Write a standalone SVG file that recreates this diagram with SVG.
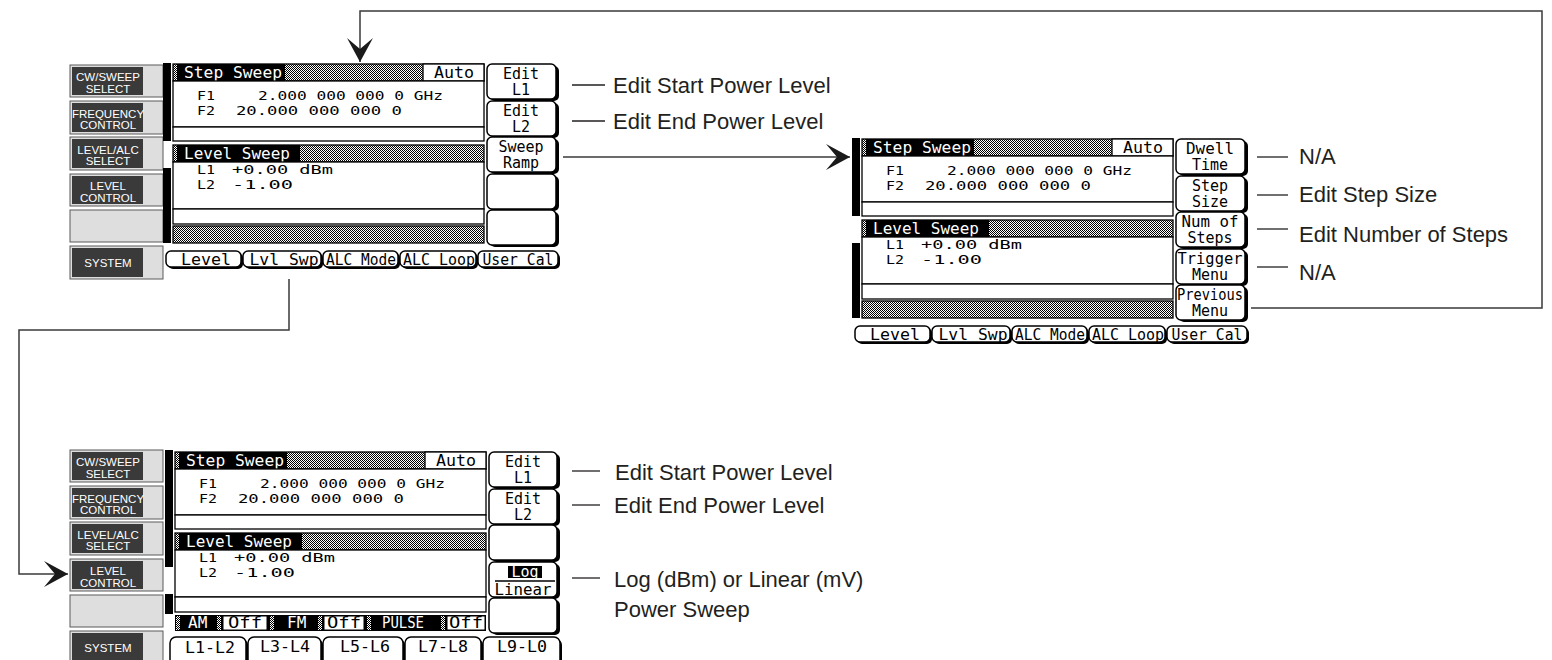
<svg xmlns="http://www.w3.org/2000/svg" width="1552" height="660" viewBox="0 0 1552 660">
<style>
.scr{font-family:"DejaVu Sans Mono","Liberation Mono",monospace;font-size:13px;fill:#000}
.hd{font-family:"DejaVu Sans Mono","Liberation Mono",monospace;font-size:16px;fill:#000}
.tb{font-family:"DejaVu Sans Mono","Liberation Mono",monospace;font-size:15px;fill:#000;text-anchor:middle}
.kt{font-family:"DejaVu Sans Mono","Liberation Mono",monospace;font-size:15px;fill:#000;text-anchor:middle}
.btn{font-family:"Liberation Sans",Arial,sans-serif;font-size:11.5px;fill:#fff;text-anchor:middle}
.lbl{font-family:"Liberation Sans",Arial,sans-serif;font-size:22px;fill:#231f20}
.w{fill:#fff}
.lcd{fill:#fff;stroke:#000;stroke-width:1.3}
.dot{fill:url(#chk);stroke:#000;stroke-width:1.3}
.dotf{fill:url(#chk)}
.bar{fill:#000}
.key{fill:#fff;stroke:#000;stroke-width:1.5}
.sh{fill:#000}
.bo{fill:#dedede;stroke:#5a5a5a;stroke-width:1}
.bi{fill:#3a3a3a}
.con{fill:none;stroke:#3a3a3a;stroke-width:1.5}
.ll{fill:none;stroke:#231f20;stroke-width:1.3}
</style>
<defs>
<pattern id="chk" width="2" height="2" patternUnits="userSpaceOnUse">
<rect width="2" height="2" fill="#fff"/>
<rect width="1" height="1" fill="#000"/>
<rect x="1" y="1" width="1" height="1" fill="#000"/>
</pattern>
<marker id="ah" viewBox="-26 -14 28 28" refX="0" refY="0" markerWidth="28" markerHeight="28" markerUnits="userSpaceOnUse" orient="auto">
<path d="M0,0 L-24,-13 L-13,0 L-24,13 Z" fill="#1a1a1a"/>
</marker>
</defs>
<rect width="1552" height="660" fill="#fff"/>

<!-- ============ PANEL A ============ -->
<g id="panelA">
 <g id="panelA-buttons">
  <rect class="bo" x="70" y="65" width="93" height="32"/><rect class="bi" x="72" y="67" width="71" height="28"/>
  <text class="btn" x="108" y="81">CW/SWEEP</text><text class="btn" x="108" y="92.5">SELECT</text>
  <rect class="bo" x="70" y="101" width="93" height="33"/><rect class="bi" x="72" y="103" width="71" height="29"/>
  <text class="btn" x="108" y="117.5">FREQUENCY</text><text class="btn" x="108" y="129">CONTROL</text>
  <rect class="bo" x="70" y="137" width="93" height="33"/><rect class="bi" x="72" y="139" width="71" height="29"/>
  <text class="btn" x="108" y="153.5">LEVEL/ALC</text><text class="btn" x="108" y="165">SELECT</text>
  <rect class="bo" x="70" y="174" width="93" height="32"/><rect class="bi" x="72" y="176" width="71" height="28"/>
  <text class="btn" x="108" y="190">LEVEL</text><text class="btn" x="108" y="201.5">CONTROL</text>
  <rect class="bo" x="70" y="210" width="93" height="32"/>
  <rect class="bo" x="70" y="246" width="93" height="33"/><rect class="bi" x="72" y="248" width="71" height="29"/>
  <text class="btn" x="108" y="267">SYSTEM</text>
 </g>
 <rect class="bar" x="163" y="63" width="8" height="78"/>
 <rect class="bar" x="163" y="168" width="8" height="75"/>
 <g id="panelA-screen">
  <rect class="dot" x="173" y="64" width="311" height="17"/>
  <rect x="177" y="64" width="108" height="17" fill="#000"/>
  <text class="hd w" x="184" y="78" textLength="98" lengthAdjust="spacingAndGlyphs">Step Sweep</text>
  <rect class="lcd" x="423" y="64" width="61" height="17"/>
  <text class="hd" x="434" y="78" textLength="40" lengthAdjust="spacingAndGlyphs">Auto</text>
  <rect class="lcd" x="173" y="81" width="311" height="46"/>
  <text class="scr" x="197" y="100" textLength="18" lengthAdjust="spacingAndGlyphs">F1</text>
  <text class="scr" x="258" y="100" textLength="185" lengthAdjust="spacingAndGlyphs">2.000 000 000 0 GHz</text>
  <text class="scr" x="197" y="115" textLength="18" lengthAdjust="spacingAndGlyphs">F2</text>
  <text class="scr" x="236" y="115" textLength="166" lengthAdjust="spacingAndGlyphs">20.000 000 000 0</text>
  <rect class="lcd" x="173" y="127" width="311" height="14"/>
  <rect class="dot" x="173" y="145" width="311" height="17"/>
  <rect x="177" y="145" width="123" height="17" fill="#000"/>
  <text class="hd w" x="184" y="159" textLength="106" lengthAdjust="spacingAndGlyphs">Level Sweep</text>
  <rect class="lcd" x="173" y="162" width="311" height="47"/>
  <text class="scr" x="197" y="174" textLength="18" lengthAdjust="spacingAndGlyphs">L1</text>
  <text class="scr" x="232" y="174" textLength="101" lengthAdjust="spacingAndGlyphs">+0.00 dBm</text>
  <text class="scr" x="197" y="189" textLength="18" lengthAdjust="spacingAndGlyphs">L2</text>
  <text class="scr" x="232" y="189" textLength="61" lengthAdjust="spacingAndGlyphs">-1.00</text>
  <rect class="lcd" x="173" y="209" width="311" height="15"/>
  <rect class="dot" x="173" y="226" width="311" height="17"/>
 </g>
 <g id="panelA-keys">
  <rect class="sh" x="490" y="66" width="69" height="35" rx="5"/><rect class="key" x="487" y="64" width="69" height="35" rx="5"/>
  <text class="kt" x="521" y="79">Edit</text><text class="kt" x="521" y="95">L1</text>
  <rect class="sh" x="490" y="103" width="69" height="35" rx="5"/><rect class="key" x="487" y="101" width="69" height="35" rx="5"/>
  <text class="kt" x="521" y="116">Edit</text><text class="kt" x="521" y="132">L2</text>
  <rect class="sh" x="490" y="139" width="69" height="35" rx="5"/><rect class="key" x="487" y="137" width="69" height="35" rx="5"/>
  <text class="kt" x="521" y="152">Sweep</text><text class="kt" x="521" y="168">Ramp</text>
  <rect class="sh" x="490" y="176" width="69" height="35" rx="5"/><rect class="key" x="487" y="174" width="69" height="35" rx="5"/>
  <rect class="sh" x="490" y="212" width="69" height="35" rx="5"/><rect class="key" x="487" y="210" width="69" height="35" rx="5"/>
 </g>
 <g id="panelA-tabs">
  <rect class="sh" x="168" y="253" width="75" height="16" rx="5"/><rect class="key" x="166" y="251" width="75" height="16" rx="5"/>
  <text class="tb" x="206" y="265" textLength="50" lengthAdjust="spacingAndGlyphs">Level</text>
  <rect class="sh" x="245" y="253" width="78" height="16" rx="5"/><rect class="key" x="243" y="251" width="78" height="16" rx="5"/>
  <text class="tb" x="284" y="265" textLength="69" lengthAdjust="spacingAndGlyphs">Lvl Swp</text>
  <rect class="sh" x="325" y="253" width="75" height="16" rx="5"/><rect class="key" x="323" y="251" width="75" height="16" rx="5"/>
  <text class="tb" x="361" y="265" textLength="70" lengthAdjust="spacingAndGlyphs">ALC Mode</text>
  <rect class="sh" x="402" y="253" width="76" height="16" rx="5"/><rect class="key" x="400" y="251" width="76" height="16" rx="5"/>
  <text class="tb" x="439" y="265" textLength="72" lengthAdjust="spacingAndGlyphs">ALC Loop</text>
  <rect class="sh" x="480" y="253" width="80" height="16" rx="5"/><rect class="key" x="478" y="251" width="80" height="16" rx="5"/>
  <text class="tb" x="518" y="265" textLength="71" lengthAdjust="spacingAndGlyphs">User Cal</text>
 </g>
</g>

<!-- ============ PANEL B ============ -->
<g id="panelB" transform="translate(689,75)">
 <rect class="bar" x="163" y="63" width="8" height="78"/>
 <rect class="bar" x="163" y="168" width="8" height="75"/>
 <g id="panelB-screen">
  <rect class="dot" x="173" y="64" width="311" height="17"/>
  <rect x="177" y="64" width="108" height="17" fill="#000"/>
  <text class="hd w" x="184" y="78" textLength="98" lengthAdjust="spacingAndGlyphs">Step Sweep</text>
  <rect class="lcd" x="423" y="64" width="61" height="17"/>
  <text class="hd" x="434" y="78" textLength="40" lengthAdjust="spacingAndGlyphs">Auto</text>
  <rect class="lcd" x="173" y="81" width="311" height="46"/>
  <text class="scr" x="197" y="100" textLength="18" lengthAdjust="spacingAndGlyphs">F1</text>
  <text class="scr" x="258" y="100" textLength="185" lengthAdjust="spacingAndGlyphs">2.000 000 000 0 GHz</text>
  <text class="scr" x="197" y="115" textLength="18" lengthAdjust="spacingAndGlyphs">F2</text>
  <text class="scr" x="236" y="115" textLength="166" lengthAdjust="spacingAndGlyphs">20.000 000 000 0</text>
  <rect class="lcd" x="173" y="127" width="311" height="14"/>
  <rect class="dot" x="173" y="145" width="311" height="17"/>
  <rect x="177" y="145" width="123" height="17" fill="#000"/>
  <text class="hd w" x="184" y="159" textLength="106" lengthAdjust="spacingAndGlyphs">Level Sweep</text>
  <rect class="lcd" x="173" y="162" width="311" height="47"/>
  <text class="scr" x="197" y="174" textLength="18" lengthAdjust="spacingAndGlyphs">L1</text>
  <text class="scr" x="232" y="174" textLength="101" lengthAdjust="spacingAndGlyphs">+0.00 dBm</text>
  <text class="scr" x="197" y="189" textLength="18" lengthAdjust="spacingAndGlyphs">L2</text>
  <text class="scr" x="232" y="189" textLength="61" lengthAdjust="spacingAndGlyphs">-1.00</text>
  <rect class="lcd" x="173" y="209" width="311" height="15"/>
  <rect class="dot" x="173" y="226" width="311" height="17"/>
 </g>
 <g id="panelB-keys">
  <rect class="sh" x="490" y="66" width="69" height="35" rx="5"/><rect class="key" x="487" y="64" width="69" height="35" rx="5"/>
  <text class="kt" x="521" y="79" textLength="48" lengthAdjust="spacingAndGlyphs">Dwell</text><text class="kt" x="521" y="95">Time</text>
  <rect class="sh" x="490" y="103" width="69" height="35" rx="5"/><rect class="key" x="487" y="101" width="69" height="35" rx="5"/>
  <text class="kt" x="521" y="116">Step</text><text class="kt" x="521" y="132">Size</text>
  <rect class="sh" x="490" y="139" width="69" height="35" rx="5"/><rect class="key" x="487" y="137" width="69" height="35" rx="5"/>
  <text class="kt" x="521" y="152" textLength="57" lengthAdjust="spacingAndGlyphs">Num of</text><text class="kt" x="521" y="168">Steps</text>
  <rect class="sh" x="490" y="176" width="69" height="35" rx="5"/><rect class="key" x="487" y="174" width="69" height="35" rx="5"/>
  <text class="kt" x="521" y="189" textLength="65" lengthAdjust="spacingAndGlyphs">Trigger</text><text class="kt" x="521" y="205">Menu</text>
  <rect class="sh" x="490" y="212" width="69" height="35" rx="5"/><rect class="key" x="487" y="210" width="69" height="35" rx="5"/>
  <text class="kt" x="521" y="225" textLength="66" lengthAdjust="spacingAndGlyphs">Previous</text><text class="kt" x="521" y="241">Menu</text>
 </g>
 <g id="panelB-tabs">
  <rect class="sh" x="168" y="253" width="75" height="16" rx="5"/><rect class="key" x="166" y="251" width="75" height="16" rx="5"/>
  <text class="tb" x="206" y="265" textLength="50" lengthAdjust="spacingAndGlyphs">Level</text>
  <rect class="sh" x="245" y="253" width="78" height="16" rx="5"/><rect class="key" x="243" y="251" width="78" height="16" rx="5"/>
  <text class="tb" x="284" y="265" textLength="69" lengthAdjust="spacingAndGlyphs">Lvl Swp</text>
  <rect class="sh" x="325" y="253" width="75" height="16" rx="5"/><rect class="key" x="323" y="251" width="75" height="16" rx="5"/>
  <text class="tb" x="361" y="265" textLength="70" lengthAdjust="spacingAndGlyphs">ALC Mode</text>
  <rect class="sh" x="402" y="253" width="76" height="16" rx="5"/><rect class="key" x="400" y="251" width="76" height="16" rx="5"/>
  <text class="tb" x="439" y="265" textLength="72" lengthAdjust="spacingAndGlyphs">ALC Loop</text>
  <rect class="sh" x="480" y="253" width="80" height="16" rx="5"/><rect class="key" x="478" y="251" width="80" height="16" rx="5"/>
  <text class="tb" x="518" y="265" textLength="71" lengthAdjust="spacingAndGlyphs">User Cal</text>
 </g>
</g>

<!-- ============ PANEL C ============ -->
<g id="panelC">
 <g id="panelC-buttons">
  <rect class="bo" x="70" y="450" width="93" height="32"/><rect class="bi" x="72" y="452" width="71" height="28"/>
  <text class="btn" x="108" y="466">CW/SWEEP</text><text class="btn" x="108" y="477.5">SELECT</text>
  <rect class="bo" x="70" y="486" width="93" height="33"/><rect class="bi" x="72" y="488" width="71" height="29"/>
  <text class="btn" x="108" y="502.5">FREQUENCY</text><text class="btn" x="108" y="514">CONTROL</text>
  <rect class="bo" x="70" y="522" width="93" height="33"/><rect class="bi" x="72" y="524" width="71" height="29"/>
  <text class="btn" x="108" y="538.5">LEVEL/ALC</text><text class="btn" x="108" y="550">SELECT</text>
  <rect class="bo" x="70" y="559" width="93" height="32"/><rect class="bi" x="72" y="561" width="71" height="28"/>
  <text class="btn" x="108" y="575">LEVEL</text><text class="btn" x="108" y="586.5">CONTROL</text>
  <rect class="bo" x="70" y="595" width="93" height="32"/>
  <rect class="bo" x="70" y="631" width="93" height="40"/><rect class="bi" x="72" y="633" width="71" height="36"/>
  <text class="btn" x="108" y="652">SYSTEM</text>
 </g>
 <rect class="bar" x="165" y="450" width="8" height="117"/>
 <rect class="bar" x="165" y="594" width="8" height="20"/>
 <g id="panelC-screen" transform="translate(2,388)">
  <rect class="dot" x="173" y="64" width="311" height="17"/>
  <rect x="177" y="64" width="108" height="17" fill="#000"/>
  <text class="hd w" x="184" y="78" textLength="98" lengthAdjust="spacingAndGlyphs">Step Sweep</text>
  <rect class="lcd" x="423" y="64" width="61" height="17"/>
  <text class="hd" x="434" y="78" textLength="40" lengthAdjust="spacingAndGlyphs">Auto</text>
  <rect class="lcd" x="173" y="81" width="311" height="46"/>
  <text class="scr" x="197" y="100" textLength="18" lengthAdjust="spacingAndGlyphs">F1</text>
  <text class="scr" x="258" y="100" textLength="185" lengthAdjust="spacingAndGlyphs">2.000 000 000 0 GHz</text>
  <text class="scr" x="197" y="115" textLength="18" lengthAdjust="spacingAndGlyphs">F2</text>
  <text class="scr" x="236" y="115" textLength="166" lengthAdjust="spacingAndGlyphs">20.000 000 000 0</text>
  <rect class="lcd" x="173" y="127" width="311" height="14"/>
  <rect class="dot" x="173" y="145" width="311" height="17"/>
  <rect x="177" y="145" width="123" height="17" fill="#000"/>
  <text class="hd w" x="184" y="159" textLength="106" lengthAdjust="spacingAndGlyphs">Level Sweep</text>
  <rect class="lcd" x="173" y="162" width="311" height="47"/>
  <text class="scr" x="197" y="174" textLength="18" lengthAdjust="spacingAndGlyphs">L1</text>
  <text class="scr" x="232" y="174" textLength="101" lengthAdjust="spacingAndGlyphs">+0.00 dBm</text>
  <text class="scr" x="197" y="189" textLength="18" lengthAdjust="spacingAndGlyphs">L2</text>
  <text class="scr" x="232" y="189" textLength="61" lengthAdjust="spacingAndGlyphs">-1.00</text>
  <rect class="lcd" x="173" y="209" width="311" height="15"/>
 </g>
 <g id="panelC-status">
  <rect x="175" y="615" width="311" height="16" fill="#000"/>
  <rect class="dotf" x="176" y="616" width="4" height="14"/>
  <text class="hd w" x="188" y="628">AM</text>
  <rect class="dotf" x="217" y="616" width="4" height="14"/>
  <rect x="223" y="616" width="44" height="14" fill="#fff" stroke="#000"/>
  <text class="hd" x="228" y="628" textLength="34" lengthAdjust="spacingAndGlyphs">Off</text>
  <rect class="dotf" x="270" y="616" width="4" height="14"/>
  <text class="hd w" x="287" y="628">FM</text>
  <rect class="dotf" x="318" y="616" width="4" height="14"/>
  <rect x="324" y="616" width="40" height="14" fill="#fff" stroke="#000"/>
  <text class="hd" x="327" y="628" textLength="34" lengthAdjust="spacingAndGlyphs">Off</text>
  <rect class="dotf" x="367" y="616" width="4" height="14"/>
  <text class="hd w" x="382" y="628" textLength="42" lengthAdjust="spacingAndGlyphs">PULSE</text>
  <rect class="dotf" x="441" y="616" width="4" height="14"/>
  <rect x="447" y="616" width="38" height="14" fill="#fff" stroke="#000"/>
  <text class="hd" x="449" y="628" textLength="34" lengthAdjust="spacingAndGlyphs">Off</text>
 </g>
 <g id="panelC-keys">
  <rect class="sh" x="492" y="454" width="68" height="35" rx="5"/><rect class="key" x="489" y="452" width="68" height="35" rx="5"/>
  <text class="kt" x="523" y="467">Edit</text><text class="kt" x="523" y="483">L1</text>
  <rect class="sh" x="492" y="491" width="68" height="35" rx="5"/><rect class="key" x="489" y="489" width="68" height="35" rx="5"/>
  <text class="kt" x="523" y="504">Edit</text><text class="kt" x="523" y="520">L2</text>
  <rect class="sh" x="492" y="527" width="68" height="35" rx="5"/><rect class="key" x="489" y="525" width="68" height="35" rx="5"/>
  <rect class="sh" x="492" y="564" width="68" height="35" rx="5"/><rect class="key" x="489" y="562" width="68" height="35" rx="5"/>
  <rect x="508" y="566" width="34" height="12" fill="#000"/>
  <text class="kt w" x="525" y="577" font-size="13">Log</text>
  <line x1="495" y1="581" x2="555" y2="581" stroke="#000" stroke-width="1.5"/>
  <text class="kt" x="523" y="595" textLength="57" lengthAdjust="spacingAndGlyphs">Linear</text>
  <rect class="sh" x="492" y="600" width="68" height="35" rx="5"/><rect class="key" x="489" y="598" width="68" height="35" rx="5"/>
 </g>
 <g id="panelC-tabs">
  <rect class="sh" x="172" y="639" width="76" height="30" rx="6"/><rect class="key" x="170" y="637" width="76" height="30" rx="6"/>
  <text class="tb" x="210" y="653" textLength="50" lengthAdjust="spacingAndGlyphs">L1-L2</text>
  <rect class="sh" x="250" y="639" width="73" height="30" rx="6"/><rect class="key" x="248" y="637" width="73" height="30" rx="6"/>
  <text class="tb" x="285" y="652" textLength="50" lengthAdjust="spacingAndGlyphs">L3-L4</text>
  <rect class="sh" x="325" y="639" width="80" height="30" rx="6"/><rect class="key" x="323" y="637" width="80" height="30" rx="6"/>
  <text class="tb" x="365" y="652" textLength="50" lengthAdjust="spacingAndGlyphs">L5-L6</text>
  <rect class="sh" x="407" y="639" width="76" height="30" rx="6"/><rect class="key" x="405" y="637" width="76" height="30" rx="6"/>
  <text class="tb" x="443" y="652" textLength="50" lengthAdjust="spacingAndGlyphs">L7-L8</text>
  <rect class="sh" x="485" y="639" width="77" height="30" rx="6"/><rect class="key" x="483" y="637" width="77" height="30" rx="6"/>
  <text class="tb" x="522" y="652" textLength="50" lengthAdjust="spacingAndGlyphs">L9-L0</text>
 </g>
</g>

<!-- ============ LABELS ============ -->
<g id="labelsA">
 <line class="ll" x1="572" y1="85" x2="605" y2="85"/>
 <text class="lbl" x="613" y="93">Edit Start Power Level</text>
 <line class="ll" x1="572" y1="121" x2="605" y2="121"/>
 <text class="lbl" x="613" y="129">Edit End Power Level</text>
</g>
<g id="labelsB">
 <line class="ll" x1="1257" y1="157" x2="1288" y2="157"/>
 <text class="lbl" x="1299" y="164">N/A</text>
 <line class="ll" x1="1257" y1="195" x2="1288" y2="195"/>
 <text class="lbl" x="1299" y="202">Edit Step Size</text>
 <line class="ll" x1="1257" y1="229" x2="1288" y2="229"/>
 <text class="lbl" x="1299" y="242">Edit Number of Steps</text>
 <line class="ll" x1="1257" y1="267" x2="1288" y2="267"/>
 <text class="lbl" x="1299" y="280">N/A</text>
</g>
<g id="labelsC">
 <line class="ll" x1="572" y1="471" x2="600" y2="471"/>
 <text class="lbl" x="615" y="480">Edit Start Power Level</text>
 <line class="ll" x1="572" y1="505" x2="600" y2="505"/>
 <text class="lbl" x="614" y="513">Edit End Power Level</text>
 <line class="ll" x1="572" y1="578" x2="600" y2="578"/>
 <text class="lbl" x="614" y="587">Log (dBm) or Linear (mV)</text>
 <text class="lbl" x="614" y="617">Power Sweep</text>
</g>

<!-- ============ CONNECTORS ============ -->
<g id="connectors">
 <path class="con" d="M1251,308 H1542 V11 H360 V62" marker-end="url(#ah)"/>
 <path class="con" d="M563,157 H850" marker-end="url(#ah)"/>
 <path class="con" d="M289,279 V330 H19 V574 H68" marker-end="url(#ah)"/>
</g>
</svg>
